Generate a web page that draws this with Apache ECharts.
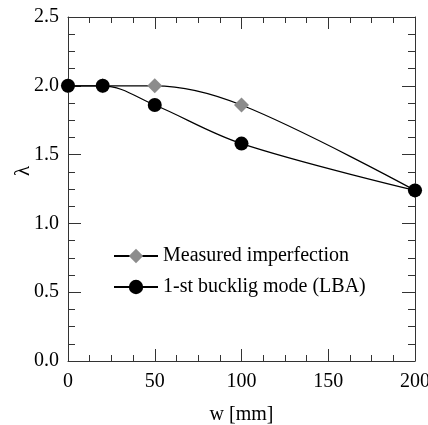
<!DOCTYPE html>
<html>
<head>
<meta charset="utf-8">
<script src="https://cdn.jsdelivr.net/npm/echarts@6/dist/echarts.min.js"></script>
<style>
  html, body { margin: 0; padding: 0; background: #fff; }
</style>
</head>
<body>
<div id="chart" style="width:428px;height:425px;"></div>
<script>
// w [mm] positions
var wValues = [0, 20, 50, 100, 200];
// lambda values
var measuredValues = [2.0, 2.0, 2.0, 1.86, 1.24];
var lbaValues = [2.0, 2.0, 1.86, 1.58, 1.24];
var seriesNames = ['Measured imperfection', '1-st bucklig mode (LBA)'];

function pairs(xs, ys) {
    var out = [];
    for (var i = 0; i < xs.length; i++) {
        out.push([xs[i], ys[i]]);
    }
    return out;
}

var font = 'Liberation Serif';
var axisColor = '#333';

function xAxisDef(pos, showLabel) {
    return {
        type: 'value',
        position: pos,
        min: 0,
        max: 200,
        interval: 50,
        name: showLabel ? 'w [mm]' : '',
        nameLocation: 'middle',
        nameGap: 44,
        nameTextStyle: { fontFamily: font, fontSize: 20, color: '#000' },
        axisLine: { show: true, onZero: false, lineStyle: { color: axisColor, width: 1 } },
        axisTick: { show: true, inside: true, length: 12, lineStyle: { color: axisColor } },
        minorTick: { show: true, splitNumber: 4, length: 6, lineStyle: { color: axisColor } },
        axisLabel: {
            show: showLabel,
            margin: 11,
            fontFamily: font,
            fontSize: 20,
            color: '#000'
        },
        splitLine: { show: false }
    };
}

function yAxisDef(pos, showLabel) {
    return {
        type: 'value',
        position: pos,
        min: 0,
        max: 2.5,
        interval: 0.5,
        name: showLabel ? 'λ' : '',
        nameLocation: 'middle',
        nameGap: 34,
        nameMoveOverlap: false,
        nameRotate: 90,
        nameTextStyle: { fontFamily: font, fontSize: 21, color: '#000', padding: [0, 0, 0, 36] },
        axisLine: { show: true, onZero: false, lineStyle: { color: axisColor, width: 1 } },
        axisTick: { show: true, inside: true, length: 13, lineStyle: { color: axisColor } },
        minorTick: { show: true, splitNumber: 4, length: 7, lineStyle: { color: axisColor } },
        axisLabel: {
            show: showLabel,
            margin: 9,
            fontFamily: font,
            fontSize: 20,
            color: '#000',
            formatter: function (v) { return v.toFixed(1); }
        },
        splitLine: { show: false }
    };
}

var chart = echarts.init(document.getElementById('chart'));
chart.setOption({
    animation: false,
    backgroundColor: '#fff',
    grid: { left: 68, right: 13, top: 17, bottom: 64, outerBoundsMode: 'none' },
    legend: {
        orient: 'vertical',
        left: 108,
        top: 241,
        itemWidth: 44,
        itemHeight: 18,
        itemGap: 11,
        textStyle: { fontFamily: font, fontSize: 20, color: '#000' },
        data: seriesNames
    },
    xAxis: [xAxisDef('bottom', true), xAxisDef('top', false)],
    yAxis: [yAxisDef('left', true), yAxisDef('right', false)],
    series: [
        {
            name: seriesNames[0],
            type: 'line',
            smooth: 0.35,
            data: pairs(wValues, measuredValues),
            symbol: 'diamond',
            symbolSize: 15,
            itemStyle: { color: '#8c8c8c' },
            lineStyle: { color: '#000', width: 1.2 },
            z: 3
        },
        {
            name: seriesNames[1],
            type: 'line',
            smooth: 0.35,
            data: pairs(wValues, lbaValues),
            symbol: 'circle',
            symbolSize: 14,
            itemStyle: { color: '#000' },
            lineStyle: { color: '#000', width: 1.2 },
            z: 4
        }
    ]
});
</script>
</body>
</html>
